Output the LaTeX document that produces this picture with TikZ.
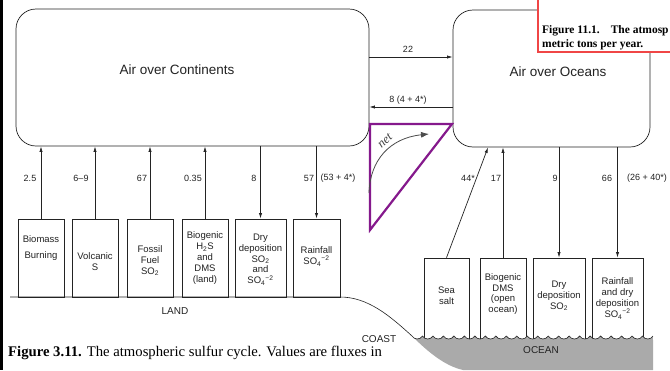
\documentclass[tikz,border=0pt]{standalone}
\usepackage{fontspec}
\setmainfont{Liberation Sans}
\newfontfamily\tms{Liberation Serif}
\usetikzlibrary{arrows.meta}
\definecolor{purp}{RGB}{133,25,140}
\definecolor{redb}{RGB}{240,70,70}
\definecolor{ocg}{RGB}{170,170,170}
\definecolor{ink}{RGB}{35,35,35}
\begin{document}
\begin{tikzpicture}[x=1pt,y=-1pt,
  abox/.style={draw=ink, line width=0.7pt, rounded corners=20pt, inner sep=0pt},
  lbox/.style={draw=ink, line width=0.7pt, inner sep=0pt, minimum height=78pt},
  obox/.style={draw=ink, line width=0.7pt, inner sep=0pt, minimum height=81.5pt},
  btxt/.style={font=\fontsize{9.5}{10.9}\selectfont, align=center, inner sep=0pt, text=ink},
  num/.style={font=\fontsize{9}{10}\selectfont, inner sep=0pt, text=ink},
  big/.style={font=\fontsize{13.5}{15}\selectfont, inner sep=0pt, text=ink},
  place/.style={font=\fontsize{10}{11}\selectfont, inner sep=0pt, text=ink},
  arr/.style={draw=ink, line width=0.7pt, -{Latex[length=5.5pt,width=3.2pt]}}]
\useasboundingbox (0,0) rectangle (670,370);
\fill[white] (0,0) rectangle (670,370);
\fill[black] (0,0) rectangle (3,370);

% air boxes
\node[abox, minimum width=353pt, minimum height=137pt] (cont) at (192.5,77.5) {};
\node[abox, minimum width=197pt, minimum height=137pt] (oc) at (551.5,78.5) {};
\node[big] (contl) at (177,70) {Air over Continents};
\node[big] (ocl) at (558,72) {Air over Oceans};

% exchange arrows
\draw[arr] (cont.east |- 0,57) -- (oc.west |- 0,57);
\draw[arr] (oc.west |- 0,107) -- (cont.east |- 0,107);
\node[num] (l22) at (408,49) {22};
\node[num] (l8) at (408,100) {8 (4 + 4*)};

% land boxes
\node[lbox, minimum width=46pt] (b1) at (41,258) {};
\node[lbox, minimum width=46pt] (b2) at (95,258) {};
\node[lbox, minimum width=46pt] (b3) at (150,258) {};
\node[lbox, minimum width=46pt] (b4) at (205,258) {};
\node[lbox, minimum width=51pt] (b5) at (260.5,258) {};
\node[lbox, minimum width=47pt] (b6) at (316.5,258) {};
\node[btxt] (t1) at (41,248) {Biomass\\[4.8pt]Burning};
\node[btxt] (t2) at (95,262) {Volcanic\\S};
\node[btxt] (t3) at (150,260.5) {Fossil\\Fuel\\SO\textsubscript{2}};
\node[btxt] (t4) at (205,258) {Biogenic\\H\textsubscript{2}S\\and\\DMS\\(land)};
\node[btxt] (t5) at (260.5,259.5) {Dry\\deposition\\SO\textsubscript{2}\\and\\SO\textsubscript{4}\textsuperscript{−2}};
\node[btxt] (t6) at (316.5,256.5) {Rainfall\\SO\textsubscript{4}\textsuperscript{−2}};

\draw[arr] (b1.north) -- (b1.north |- cont.south);
\draw[arr] (b2.north) -- (b2.north |- cont.south);
\draw[arr] (b3.north) -- (b3.north |- cont.south);
\draw[arr] (b4.north) -- (b4.north |- cont.south);
\draw[arr] (b5.north |- cont.south) -- (b5.north);
\draw[arr] (b6.north |- cont.south) -- (b6.north);
\node[num] (n1) at (30,178) {2.5};
\node[num] (n2) at (81,178) {6–9};
\node[num] (n3) at (142,178) {67};
\node[num] (n4) at (193,178) {0.35};
\node[num] (n5) at (254,178) {8};
\node[num] (n6) at (309,178) {57};
\node[num] (n6b) at (338,178) {(53 + 4*)};

% ground and ocean
\draw[ink, line width=0.6pt] (10,297) -- (340,297) .. controls (368,297) and (390,316) .. (412,336);

\node[obox, minimum width=45pt] (o1) at (446.5,298.75) {};
\node[obox, minimum width=46pt] (o2) at (503,298.75) {};
\node[obox, minimum width=52pt] (o3) at (559,298.75) {};
\node[obox, minimum width=51pt] (o4) at (617.5,298.75) {};

\fill[ocg] (412,336) \foreach \i in {0,...,22} { .. controls ({412+10.478*\i+2.5},340) and ({412+10.478*(\i+1)-2.5},340) .. ({412+10.478*(\i+1)},336) } -- (653,370) -- (463,370) .. controls (445,366) and (428,352) .. (412,336) -- cycle;
\draw[ink, line width=0.6pt] (412,336) \foreach \i in {0,...,22} { .. controls ({412+10.478*\i+2.5},340) and ({412+10.478*(\i+1)-2.5},340) .. ({412+10.478*(\i+1)},336) };

\node[btxt] (u1) at (446.5,296) {Sea\\salt};
\node[btxt] (u2) at (503,294) {Biogenic\\DMS\\(open\\ocean)};
\node[btxt] (u3) at (559,296) {Dry\\deposition\\SO\textsubscript{2}};
\node[btxt] (u4) at (617.5,298.5) {Rainfall\\and dry\\deposition\\SO\textsubscript{4}\textsuperscript{−2}};

\coordinate (sst) at (488,147.5);
\draw[arr] (o1.north) -- (sst);
\draw[arr] (o2.north) -- (o2.north |- oc.south);
\draw[arr] (o3.north |- oc.south) -- (o3.north);
\draw[arr] (o4.north |- oc.south) -- (o4.north);
\node[num] (m1) at (468,178) {44*};
\node[num] (m2) at (496,178) {17};
\node[num] (m3) at (555,178) {9};
\node[num] (m4) at (607,178) {66};
\node[num] (m4b) at (647,178) {(26 + 40*)};

\node[place] (land) at (175,311) {LAND};
\node[place] (coast) at (379,339) {COAST};
\node[place] (ocean) at (541,350) {OCEAN};

% net triangle
\draw[purp, line width=2.2pt, line join=miter] (370,124) -- (452,124) -- (370,230) -- cycle;
\coordinate (na) at (369,193);
\coordinate (nb) at (429,134);
\draw[black!70, line width=0.8pt, -{Latex[length=8pt,width=6pt]}] (na) .. controls (370,160) and (390,138) .. (nb);
\node[rotate=42, font=\tms\itshape\fontsize{12.5}{12.5}\selectfont, text=black!75, inner sep=0pt] (net) at (385,141) {net};

% red overlay box
\fill[white] (538,-5) rectangle (675,52);
\draw[redb, line width=1.6pt] (538,-5) -- (538,52) -- (675,52);
\node[anchor=base west, inner sep=0pt, font=\tms\bfseries\fontsize{11.5}{13}\selectfont] (fig11a) at (542,33) {Figure 11.1.\hspace{11pt}The atmosp};
\node[anchor=base west, inner sep=0pt, font=\tms\bfseries\fontsize{11.5}{13}\selectfont] (fig11b) at (542,47) {metric tons per year.};

% caption
\node[anchor=base west, inner sep=0pt, font=\tms\fontsize{14.7}{16}\selectfont] (cap) at (8,356) {\textbf{Figure 3.11.}\hspace{5pt}The atmospheric sulfur cycle. Values are fluxes in};
\end{tikzpicture}
\end{document}
